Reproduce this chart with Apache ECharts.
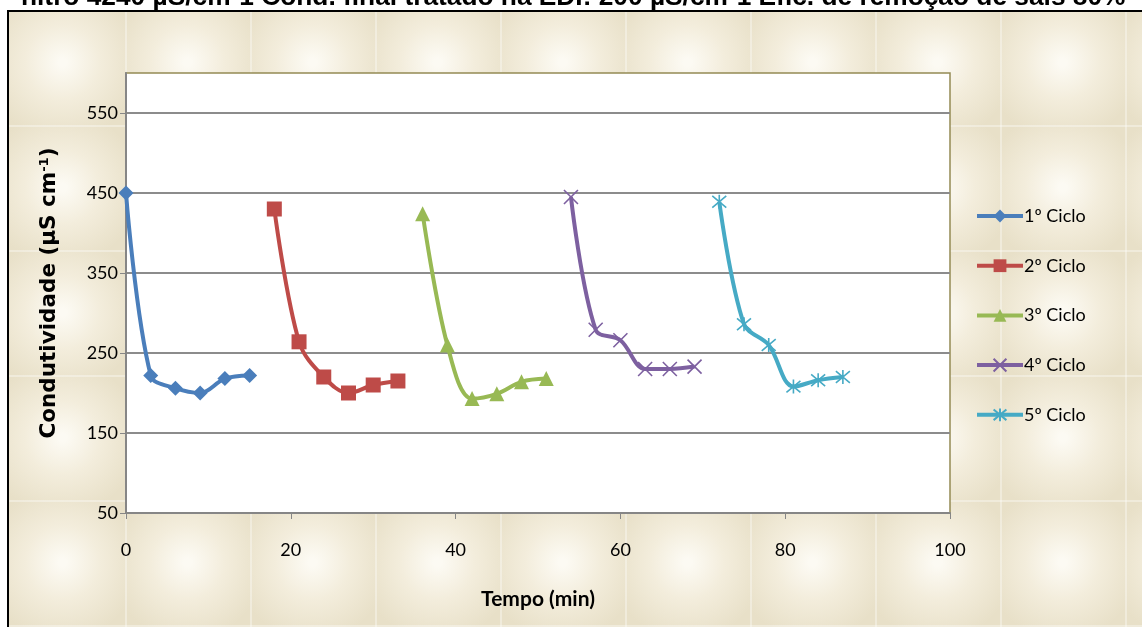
<!DOCTYPE html>
<html>
<head>
<meta charset="utf-8">
<script src="https://cdn.jsdelivr.net/npm/echarts@6/dist/echarts.min.js"></script>
<style>
  html, body { margin: 0; padding: 0; background: #fff; }
  #chart { width: 1142px; height: 627px; }
</style>
</head>
<body>
<div id="chart"></div>
<script>
// Conductivity of the treated stream over five EDI cycles
const chartTitle = 'nitro 4240 µS/cm-1 Cond. final tratado na EDI: 200 µS/cm-1 Efic. de remoção de sais 80%';
const cycleNames = ['1º Ciclo', '2º Ciclo', '3º Ciclo', '4º Ciclo', '5º Ciclo'];

// [tempo (min), condutividade (µS cm-1)]
const ciclo1 = [[0, 450], [3, 222], [6, 206], [9, 200], [12, 218], [15, 222]];
const ciclo2 = [[18, 430], [21, 264], [24, 220], [27, 200], [30, 210], [33, 215]];
const ciclo3 = [[36, 424], [39, 260], [42, 193], [45, 199], [48, 214], [51, 218]];
const ciclo4 = [[54, 445], [57, 279], [60, 266], [63, 230], [66, 230], [69, 233]];
const ciclo5 = [[72, 439], [75, 286], [78, 260], [81, 208], [84, 216], [87, 220]];

const yTicks = [50, 150, 250, 350, 450, 550];
const xTicks = [0, 20, 40, 60, 80, 100];

const cycleData = [ciclo1, ciclo2, ciclo3, ciclo4, ciclo5];
const cycleColors = ['#4A7EBB', '#BE4B48', '#98B954', '#7D60A0', '#46AAC5'];
const cycleSymbols = [
  'diamond',
  'rect',
  'triangle',
  'path://M0,0L10,10M10,0L0,10',
  'path://M0,0L10,10M10,0L0,10M5,-1L5,11'
];

const labelFont = 'Lato, "Open Sans", sans-serif';

// parchment-like tile for the chart area background
function makeTile() {
  const w = 125, h = 125;
  const c = document.createElement('canvas');
  c.width = w; c.height = h;
  const g = c.getContext('2d');
  g.fillStyle = '#EAE2CB';
  g.fillRect(0, 0, w, h);
  const rg = g.createRadialGradient(w / 2, h / 2, 4, w / 2, h / 2, w * 0.62);
  rg.addColorStop(0, '#FCFAF3');
  rg.addColorStop(0.45, '#F3EDDC');
  rg.addColorStop(1, '#E8E0C8');
  g.fillStyle = rg;
  g.fillRect(0, 0, w, h);
  g.fillStyle = 'rgba(255,255,255,0.35)';
  g.fillRect(0, 0, 2, h);
  g.fillRect(0, 0, w, 2);
  return c;
}

const chart = echarts.init(document.getElementById('chart'), null, { renderer: 'canvas' });

const series = cycleData.map((d, i) => ({
  name: cycleNames[i],
  type: 'line',
  data: d,
  smooth: 0.35,
  symbol: cycleSymbols[i],
  symbolSize: i < 3 ? 15 : 14,
  showSymbol: true,
  lineStyle: { color: cycleColors[i], width: 4 },
  itemStyle: i < 3
    ? { color: cycleColors[i] }
    : { color: cycleColors[i], borderColor: cycleColors[i], borderWidth: 1.6 },
  emphasis: { disabled: true },
  z: 3
}));

chart.setOption({
  animation: false,
  backgroundColor: '#ffffff',
  graphic: [
    {
      type: 'rect',
      z: -10,
      shape: { x: 8, y: 11, width: 1150, height: 640 },
      style: { fill: { image: makeTile(), repeat: 'repeat' }, stroke: '#000', lineWidth: 2 }
    },
    {
      type: 'text',
      z: 10,
      style: {
        x: 21, y: 11,
        text: chartTitle,
        fill: '#000',
        font: 'bold 26.3px "Liberation Sans", Arial, sans-serif',
        verticalAlign: 'bottom',
        align: 'left'
      }
    }
  ],
  grid: {
    left: 126, right: 192, top: 73, bottom: 114,
    show: true,
    backgroundColor: '#ffffff',
    borderColor: '#948A54',
    borderWidth: 1.5
  },
  legend: {
    orient: 'vertical',
    left: 970,
    top: 202,
    itemWidth: 46,
    itemHeight: 16,
    itemGap: 31.7,
    lineStyle: { width: 4 },
    textStyle: { fontFamily: labelFont, fontSize: 18, color: '#000', padding: [0, 0, 0, -4] },
    data: cycleNames
  },
  xAxis: {
    type: 'value',
    min: 0,
    max: 100,
    interval: 20,
    name: 'Tempo (min)',
    nameLocation: 'middle',
    nameGap: 76,
    nameTextStyle: { fontFamily: labelFont, fontWeight: 'bold', fontSize: 21, color: '#000' },
    axisLine: { show: true, onZero: false, lineStyle: { color: '#868686', width: 2 } },
    axisTick: { show: true, length: 6, lineStyle: { color: '#868686', width: 1 } },
    axisLabel: { margin: 28, fontFamily: labelFont, fontSize: 18, color: '#000' },
    splitLine: { show: false }
  },
  yAxis: {
    type: 'value',
    min: 50,
    max: 600,
    name: '{a|Condutividade (µS cm}{s|-1}{a|)}',
    nameLocation: 'middle',
    nameRotate: 90,
    nameGap: 66,
    nameTextStyle: {
      rich: {
        a: { fontFamily: '"DejaVu Sans", Verdana, sans-serif', fontWeight: 'bold', fontSize: 21.5, color: '#000' },
        s: { fontFamily: '"DejaVu Sans", Verdana, sans-serif', fontWeight: 'bold', fontSize: 13, color: '#000', verticalAlign: 'top', padding: [0, 0, 9, 0] }
      }
    },
    axisLine: { show: true, lineStyle: { color: '#868686', width: 2 } },
    axisTick: { show: true, length: 6, customValues: yTicks, lineStyle: { color: '#868686', width: 1 } },
    axisLabel: { customValues: yTicks, margin: 8, fontFamily: labelFont, fontSize: 18, color: '#000' },
    splitLine: { show: true, lineStyle: { color: '#8C8C8C', width: 2 } }
  },
  series: series
});
</script>
</body>
</html>
